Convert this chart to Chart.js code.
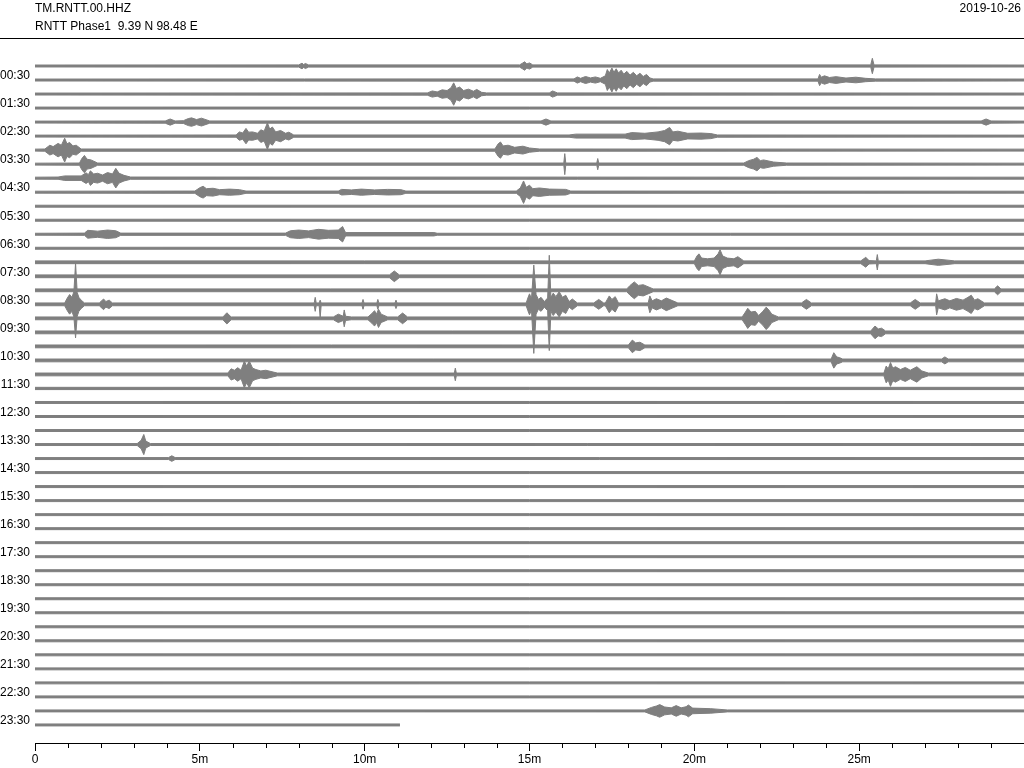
<!DOCTYPE html>
<html>
<head>
<meta charset="utf-8">
<title>TM.RNTT.00.HHZ 2019-10-26</title>
<script src="https://cdn.jsdelivr.net/npm/chart.js@4.4.1/dist/chart.umd.min.js"></script>
<style>
  html, body { margin: 0; padding: 0; background: #fff; overflow: hidden; }
  canvas { display: block; }
</style>
</head>
<body>
<canvas id="heli" width="1024" height="768"></canvas>
<script>
// cabecera
const stationCode = 'TM.RNTT.00.HHZ';
const stationInfo = 'RNTT Phase1  9.39 N 98.48 E';
const dayLabel = '2019-10-26';

// etiquetas del eje vertical (una por hora, en la fila de la media hora)
const hourLabels = ['00:30', '01:30', '02:30', '03:30', '04:30', '05:30', '06:30', '07:30',
  '08:30', '09:30', '10:30', '11:30', '12:30', '13:30', '14:30', '15:30',
  '16:30', '17:30', '18:30', '19:30', '20:30', '21:30', '22:30', '23:30'];

// eje horizontal en minutos
const xMajorMinutes = [0, 5, 10, 15, 20, 25];
const xMajorLabels = ['0', '5m', '10m', '15m', '20m', '25m'];
const xMinorMinutes = [1, 2, 3, 4, 6, 7, 8, 9, 11, 12, 13, 14, 16, 17, 18, 19, 21, 22, 23, 24, 26, 27, 28, 29];

// ruido de fondo por fila (semiamplitud, en unidades de fila)
const rowNoise = [
  0.07, 0.07, 0.07, 0.07, 0.07, 0.07, 0.07, 0.07, 0.07, 0.07, 0.07, 0.07,
  0.07, 0.07, 0.1, 0.1, 0.1, 0.1, 0.1, 0.1, 0.1, 0.1, 0.1, 0.08,
  0.07, 0.07, 0.07, 0.07, 0.07, 0.07, 0.07, 0.07, 0.07, 0.07, 0.07, 0.07,
  0.07, 0.07, 0.07, 0.07, 0.07, 0.07, 0.07, 0.07, 0.07, 0.07, 0.07, 0.07];
const lastRowEnd = 11.07; // la ultima fila termina antes

// eventos: [fila, [[minuto, semiamplitud arriba, (abajo)], ...]]
const events = [
  [0, [[8.0, 0.08], [8.1, 0.2], [8.15, 0.1], [8.2, 0.18], [8.3, 0.08]]],
  [0, [[14.7, 0.08], [14.8, 0.22], [14.85, 0.3], [14.92, 0.15], [15.0, 0.22], [15.1, 0.08]]],
  [0, [[25.35, 0.08], [25.4, 0.55], [25.45, 0.08]]],
  [1, [[16.35, 0.08], [16.45, 0.22], [16.55, 0.12], [16.7, 0.25], [16.85, 0.15], [17.0, 0.22], [17.15, 0.12],
       [17.3, 0.3], [17.36, 0.75], [17.42, 0.5], [17.5, 0.85], [17.56, 0.55], [17.63, 0.8], [17.7, 0.5],
       [17.78, 0.7], [17.86, 0.42], [17.95, 0.62], [18.05, 0.35], [18.15, 0.55], [18.25, 0.3], [18.35, 0.48],
       [18.45, 0.25], [18.55, 0.4], [18.65, 0.15], [18.75, 0.08]]],
  [1, [[23.75, 0.08], [23.8, 0.4], [23.85, 0.2], [23.95, 0.3], [24.1, 0.18], [24.3, 0.24], [24.6, 0.14],
       [24.9, 0.2], [25.2, 0.12], [25.5, 0.08]]],
  [2, [[11.9, 0.08], [12.05, 0.22], [12.2, 0.15], [12.35, 0.3], [12.5, 0.25], [12.62, 0.45], [12.7, 0.8],
       [12.78, 0.4], [12.88, 0.5], [13.0, 0.25], [13.15, 0.35], [13.3, 0.2], [13.4, 0.33], [13.55, 0.12], [13.7, 0.08]]],
  [2, [[15.6, 0.08], [15.7, 0.22], [15.85, 0.08]]],
  [4, [[3.95, 0.08], [4.1, 0.22], [4.25, 0.08], [4.5, 0.1], [4.65, 0.25], [4.75, 0.3], [4.9, 0.18],
       [5.05, 0.28], [5.3, 0.08]]],
  [4, [[15.35, 0.08], [15.5, 0.22], [15.65, 0.08]]],
  [4, [[28.7, 0.08], [28.85, 0.22], [29.0, 0.08]]],
  [5, [[6.1, 0.08], [6.2, 0.3], [6.3, 0.22], [6.4, 0.55], [6.48, 0.28], [6.6, 0.3], [6.75, 0.2],
       [6.85, 0.45], [6.95, 0.35], [7.05, 0.95], [7.12, 0.5], [7.2, 0.65], [7.3, 0.3], [7.45, 0.4],
       [7.6, 0.2], [7.7, 0.28], [7.85, 0.08]]],
  [5, [[16.2, 0.08], [16.4, 0.14], [17.9, 0.14], [18.1, 0.25], [18.5, 0.2], [18.9, 0.3], [19.1, 0.4],
       [19.25, 0.62], [19.35, 0.3], [19.5, 0.35], [19.8, 0.2], [20.2, 0.22], [20.5, 0.18], [20.7, 0.08]]],
  [6, [[0.3, 0.08], [0.45, 0.35], [0.55, 0.25], [0.7, 0.48], [0.8, 0.35], [0.9, 0.85], [0.97, 0.45],
       [1.05, 0.55], [1.15, 0.3], [1.25, 0.35], [1.4, 0.08]]],
  [6, [[13.95, 0.08], [14.05, 0.45], [14.12, 0.58], [14.2, 0.3], [14.35, 0.35], [14.55, 0.2], [14.8, 0.28],
       [15.0, 0.15], [15.3, 0.08]]],
  [7, [[1.35, 0.08], [1.42, 0.4], [1.5, 0.62], [1.58, 0.35], [1.7, 0.3], [1.9, 0.08]]],
  [7, [[16.04, 0.08], [16.07, 0.75], [16.1, 0.08]]],
  [7, [[17.04, 0.08], [17.07, 0.4], [17.1, 0.08]]],
  [7, [[21.5, 0.08], [21.65, 0.25], [21.8, 0.35], [21.9, 0.48], [22.0, 0.25], [22.1, 0.3], [22.4, 0.15], [22.8, 0.08]]],
  [8, [[0.7, 0.08], [0.9, 0.16], [1.4, 0.16], [1.55, 0.38], [1.62, 0.25], [1.68, 0.52], [1.78, 0.3],
       [1.9, 0.35], [2.05, 0.22], [2.2, 0.4], [2.35, 0.3], [2.45, 0.7], [2.55, 0.35], [2.7, 0.2], [2.9, 0.08]]],
  [9, [[4.85, 0.08], [5.0, 0.32], [5.1, 0.42], [5.2, 0.25], [5.4, 0.28], [5.6, 0.18], [5.9, 0.22],
       [6.2, 0.18], [6.4, 0.08]]],
  [9, [[9.2, 0.08], [9.3, 0.2], [9.6, 0.16], [9.9, 0.22], [10.3, 0.16], [10.7, 0.2], [11.1, 0.18], [11.25, 0.08]]],
  [9, [[14.6, 0.08], [14.72, 0.3], [14.82, 0.8], [14.9, 0.35], [15.0, 0.5], [15.1, 0.25], [15.3, 0.3],
       [15.6, 0.22], [16.1, 0.2], [16.25, 0.08]]],
  [12, [[1.5, 0.08], [1.6, 0.28], [1.9, 0.22], [2.2, 0.3], [2.45, 0.25], [2.6, 0.08]]],
  [12, [[7.6, 0.08], [7.75, 0.25], [8.0, 0.3], [8.3, 0.24], [8.6, 0.35], [8.9, 0.28], [9.2, 0.3],
       [9.33, 0.55], [9.42, 0.12], [12.1, 0.12], [12.2, 0.07]]],
  [14, [[20.0, 0.1], [20.08, 0.45], [20.14, 0.6], [20.22, 0.3], [20.4, 0.25], [20.6, 0.3], [20.72, 0.6],
        [20.78, 0.9], [20.86, 0.45], [21.0, 0.3], [21.2, 0.25], [21.32, 0.4], [21.5, 0.1]]],
  [14, [[25.05, 0.1], [25.2, 0.35], [25.3, 0.12], [25.52, 0.1], [25.55, 0.55], [25.58, 0.1]]],
  [14, [[27.0, 0.1], [27.4, 0.22], [27.9, 0.1]]],
  [15, [[10.75, 0.1], [10.9, 0.38], [11.05, 0.1]]],
  [16, [[17.95, 0.1], [18.05, 0.35], [18.18, 0.6], [18.3, 0.35], [18.45, 0.4], [18.75, 0.1]]],
  [16, [[29.1, 0.1], [29.2, 0.32], [29.3, 0.1]]],
  [17, [[0.9, 0.1], [0.98, 0.45], [1.05, 0.7], [1.12, 0.5], [1.18, 0.9], [1.23, 2.95, 2.4], [1.28, 0.85],
        [1.33, 0.5], [1.4, 0.3], [1.5, 0.1]]],
  [17, [[1.95, 0.1], [2.08, 0.38], [2.15, 0.2], [2.25, 0.3], [2.35, 0.1]]],
  [17, [[8.47, 0.1], [8.5, 0.5], [8.53, 0.1], [8.62, 0.1], [8.65, 0.3, 0.95], [8.68, 0.1]]],
  [17, [[9.92, 0.1], [9.95, 0.35], [9.98, 0.1]]],
  [17, [[10.37, 0.1], [10.4, 0.35], [10.43, 0.1]]],
  [17, [[10.92, 0.1], [10.95, 0.3], [10.98, 0.1]]],
  [17, [[14.9, 0.1], [14.95, 0.45], [15.0, 0.75], [15.06, 0.4], [15.13, 2.8, 3.5], [15.2, 0.7], [15.27, 0.35],
        [15.35, 0.5], [15.45, 0.2], [15.55, 0.45], [15.6, 3.5, 3.3], [15.65, 0.5], [15.72, 0.8], [15.8, 0.55],
        [15.9, 0.9], [16.0, 0.5], [16.1, 0.65], [16.2, 0.2], [16.3, 0.38], [16.45, 0.1]]],
  [17, [[16.95, 0.1], [17.1, 0.35], [17.25, 0.1]]],
  [17, [[17.3, 0.1], [17.42, 0.6], [17.5, 0.35], [17.6, 0.55], [17.7, 0.1]]],
  [17, [[18.6, 0.1], [18.65, 0.6], [18.72, 0.25], [18.85, 0.4], [19.0, 0.25], [19.15, 0.45], [19.35, 0.25], [19.5, 0.1]]],
  [17, [[23.25, 0.1], [23.4, 0.35], [23.55, 0.1]]],
  [17, [[26.55, 0.1], [26.7, 0.35], [26.85, 0.1]]],
  [17, [[27.32, 0.1], [27.35, 0.75], [27.4, 0.25], [27.6, 0.4], [27.75, 0.25], [27.95, 0.42], [28.15, 0.3],
        [28.3, 0.5], [28.4, 0.65], [28.5, 0.3], [28.6, 0.4], [28.8, 0.1]]],
  [18, [[5.7, 0.1], [5.82, 0.4], [5.95, 0.1]]],
  [18, [[9.05, 0.1], [9.2, 0.3], [9.35, 0.15], [9.38, 0.6], [9.42, 0.15], [9.6, 0.1]]],
  [18, [[10.1, 0.1], [10.22, 0.35], [10.3, 0.55], [10.36, 0.3], [10.42, 0.65], [10.5, 0.3], [10.7, 0.1]]],
  [18, [[11.0, 0.1], [11.15, 0.38], [11.3, 0.1]]],
  [18, [[21.45, 0.1], [21.55, 0.45], [21.62, 0.72], [21.72, 0.45], [21.85, 0.5], [21.95, 0.2], [22.08, 0.5],
        [22.18, 0.8], [22.26, 0.6], [22.35, 0.3], [22.55, 0.1]]],
  [19, [[25.35, 0.1], [25.48, 0.45], [25.58, 0.25], [25.68, 0.3], [25.8, 0.1]]],
  [20, [[18.0, 0.1], [18.12, 0.45], [18.22, 0.25], [18.35, 0.3], [18.5, 0.1]]],
  [21, [[24.15, 0.1], [24.23, 0.55], [24.32, 0.25], [24.4, 0.2], [24.5, 0.1]]],
  [21, [[27.5, 0.1], [27.6, 0.25], [27.7, 0.1]]],
  [22, [[5.85, 0.1], [5.95, 0.4], [6.05, 0.3], [6.15, 0.48], [6.25, 0.3], [6.35, 0.95], [6.42, 0.6],
        [6.5, 0.95], [6.6, 0.45], [6.7, 0.35], [6.85, 0.25], [7.0, 0.3], [7.35, 0.1]]],
  [22, [[12.72, 0.1], [12.75, 0.45], [12.78, 0.1]]],
  [22, [[25.75, 0.1], [25.82, 0.6], [25.88, 0.4], [25.95, 0.85], [26.02, 0.45], [26.1, 0.55], [26.25, 0.35],
        [26.4, 0.5], [26.55, 0.3], [26.75, 0.55], [26.9, 0.25], [27.1, 0.1]]],
  [27, [[3.1, 0.07], [3.22, 0.3], [3.3, 0.72], [3.36, 0.25], [3.5, 0.07]]],
  [28, [[4.05, 0.07], [4.15, 0.2], [4.25, 0.07]]],
  [46, [[18.5, 0.07], [18.7, 0.25], [18.85, 0.35], [18.95, 0.45], [19.1, 0.28], [19.3, 0.22], [19.45, 0.38],
        [19.6, 0.22], [19.75, 0.3], [19.82, 0.42], [19.95, 0.2], [20.5, 0.16], [21.0, 0.07]]]
];

const traceColor = '#7f7f7f';
const fontFamily = "'Liberation Sans', Arial, Helvetica, sans-serif";

// armar dos datasets por fila: borde superior y borde inferior (relleno entre ambos)
const datasets = [];
rowNoise.forEach((noise, row) => {
  const end = row === rowNoise.length - 1 ? lastRowEnd : 30;
  const knots = [[0, noise]];
  events.filter(e => e[0] === row).forEach(e => knots.push(...e[1]));
  knots.push([end, noise]);
  knots.sort((a, b) => a[0] - b[0]);

  datasets.push({
    data: knots.map(k => ({ x: k[0], y: row - k[1] })),
    borderColor: traceColor,
    borderWidth: 1,
    pointRadius: 0,
    fill: false
  });
  datasets.push({
    data: knots.map(k => ({ x: k[0], y: row + (k[2] !== undefined ? k[2] : k[1]) })),
    borderColor: traceColor,
    backgroundColor: traceColor,
    borderWidth: 1,
    pointRadius: 0,
    fill: '-1'
  });
});

// cabecera y ticks menores
const cabecera = {
  id: 'cabecera',
  afterDraw(chart) {
    const ctx = chart.ctx;
    ctx.save();
    ctx.fillStyle = '#000';
    ctx.font = '12px ' + fontFamily;
    ctx.textBaseline = 'middle';
    ctx.textAlign = 'left';
    ctx.fillText(stationCode, 35, 8.5);
    ctx.fillText(stationInfo, 35, 27);
    ctx.textAlign = 'right';
    ctx.fillText(dayLabel, 1021, 9);

    ctx.strokeStyle = '#000';
    ctx.lineWidth = 1;
    ctx.beginPath();
    ctx.moveTo(0, 38.5);
    ctx.lineTo(1024, 38.5);
    ctx.stroke();

    const xs = chart.scales.x;
    ctx.beginPath();
    xMinorMinutes.forEach(m => {
      const px = Math.round(xs.getPixelForValue(m)) + 0.5;
      ctx.moveTo(px, xs.top);
      ctx.lineTo(px, xs.top + 5);
    });
    ctx.stroke();
    ctx.restore();
  }
};

new Chart(document.getElementById('heli').getContext('2d'), {
  type: 'line',
  data: { datasets },
  options: {
    responsive: false,
    animation: false,
    devicePixelRatio: 1,
    layout: { padding: { top: 40, left: 0, right: 0, bottom: 0 } },
    plugins: {
      legend: { display: false },
      tooltip: { enabled: false },
      title: { display: false }
    },
    elements: { line: { tension: 0 } },
    scales: {
      x: {
        type: 'linear',
        min: 0,
        max: 30,
        afterBuildTicks: scale => { scale.ticks = xMajorMinutes.map(v => ({ value: v })); },
        afterFit: scale => { scale.height = 25; },
        ticks: {
          autoSkip: false,
          maxRotation: 0,
          padding: 1,
          color: '#000',
          font: { family: fontFamily, size: 12 },
          callback: v => xMajorLabels[xMajorMinutes.indexOf(v)]
        },
        grid: { drawOnChartArea: false, drawTicks: true, tickLength: 8, color: '#000', lineWidth: 1 },
        border: { display: true, color: '#000', width: 1 }
      },
      y: {
        type: 'linear',
        reverse: true,
        min: -1.8545,
        max: 48.288,
        afterBuildTicks: scale => { scale.ticks = hourLabels.map((l, i) => ({ value: 2 * i + 1 })); },
        afterFit: scale => { scale.width = 35; },
        ticks: {
          autoSkip: false,
          padding: 5,
          labelOffset: -4,
          color: '#000',
          font: { family: fontFamily, size: 12 },
          callback: v => hourLabels[(v - 1) / 2]
        },
        grid: { display: false, drawTicks: false },
        border: { display: false }
      }
    }
  },
  plugins: [cabecera]
});
</script>
</body>
</html>
